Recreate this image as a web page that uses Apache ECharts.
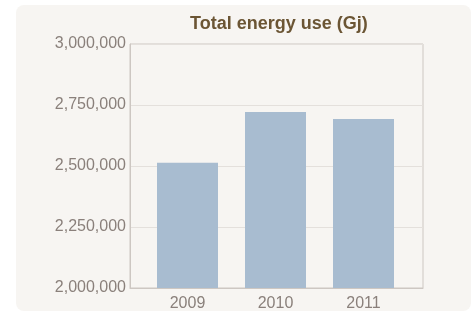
<!DOCTYPE html>
<html>
<head>
<meta charset="utf-8">
<script src="https://cdn.jsdelivr.net/npm/echarts@6/dist/echarts.min.js"></script>
<style>
  html, body { margin: 0; padding: 0; background: #ffffff; }
  #panel {
    position: absolute; left: 16px; top: 5px; width: 455px; height: 306px;
    background: #f7f5f2; border-radius: 8px;
  }
  #main { position: absolute; left: 0; top: 0; width: 472px; height: 315px; }
</style>
</head>
<body>
<div id="panel"></div>
<div id="main"></div>
<script>
// data
var years = ['2009', '2010', '2011'];
var energyUse = [2513000, 2721000, 2693000];
var yMin = 2000000;
var yMax = 3000000;
var yStep = 250000;

var myChart = echarts.init(document.getElementById('main'));

var labelColor = '#8a807b';
var frameColor = '#cdc7c2';
var font = 'Liberation Sans, Arial, sans-serif';

var option = {
  backgroundColor: 'transparent',
  title: {
    text: 'Total energy use (Gj)',
    left: 185,
    top: 10,
    textStyle: {
      color: '#6b5534',
      fontFamily: font,
      fontSize: 18,
      fontWeight: 'bold'
    }
  },
  grid: [
    // frame + y axis
    { show: true, left: 130, right: 49, top: 44, bottom: 27, borderColor: frameColor, borderWidth: 1 },
    // bars sit a bit inside the frame
    { left: 143.5, right: 64.5, top: 44, bottom: 27 }
  ],
  xAxis: [
    {
      gridIndex: 0,
      type: 'category',
      data: years,
      axisTick: { show: false },
      axisLabel: { show: false },
      axisLine: { lineStyle: { color: frameColor, width: 1 } }
    },
    {
      gridIndex: 1,
      type: 'category',
      data: years,
      axisTick: { show: false },
      axisLine: { show: false },
      axisLabel: { color: labelColor, fontFamily: font, fontSize: 16, margin: 8 }
    }
  ],
  yAxis: [
    {
      gridIndex: 0,
      type: 'value',
      min: yMin,
      max: yMax,
      interval: yStep,
      axisLine: { show: true, lineStyle: { color: frameColor, width: 1 } },
      axisTick: { show: false },
      splitLine: { lineStyle: { color: '#e4e0dc', width: 1 } },
      axisLabel: {
        color: labelColor,
        fontFamily: font,
        fontSize: 16,
        margin: 4,
        formatter: function (v) { return v.toLocaleString('en-US'); }
      }
    },
    {
      gridIndex: 1,
      type: 'value',
      min: yMin,
      max: yMax,
      interval: yStep,
      show: false
    }
  ],
  series: [
    {
      type: 'bar',
      xAxisIndex: 1,
      yAxisIndex: 1,
      data: energyUse,
      barWidth: 61,
      itemStyle: { color: '#a8bcd0' },
      silent: true
    }
  ],
  animation: false
};

myChart.setOption(option);
</script>
</body>
</html>
